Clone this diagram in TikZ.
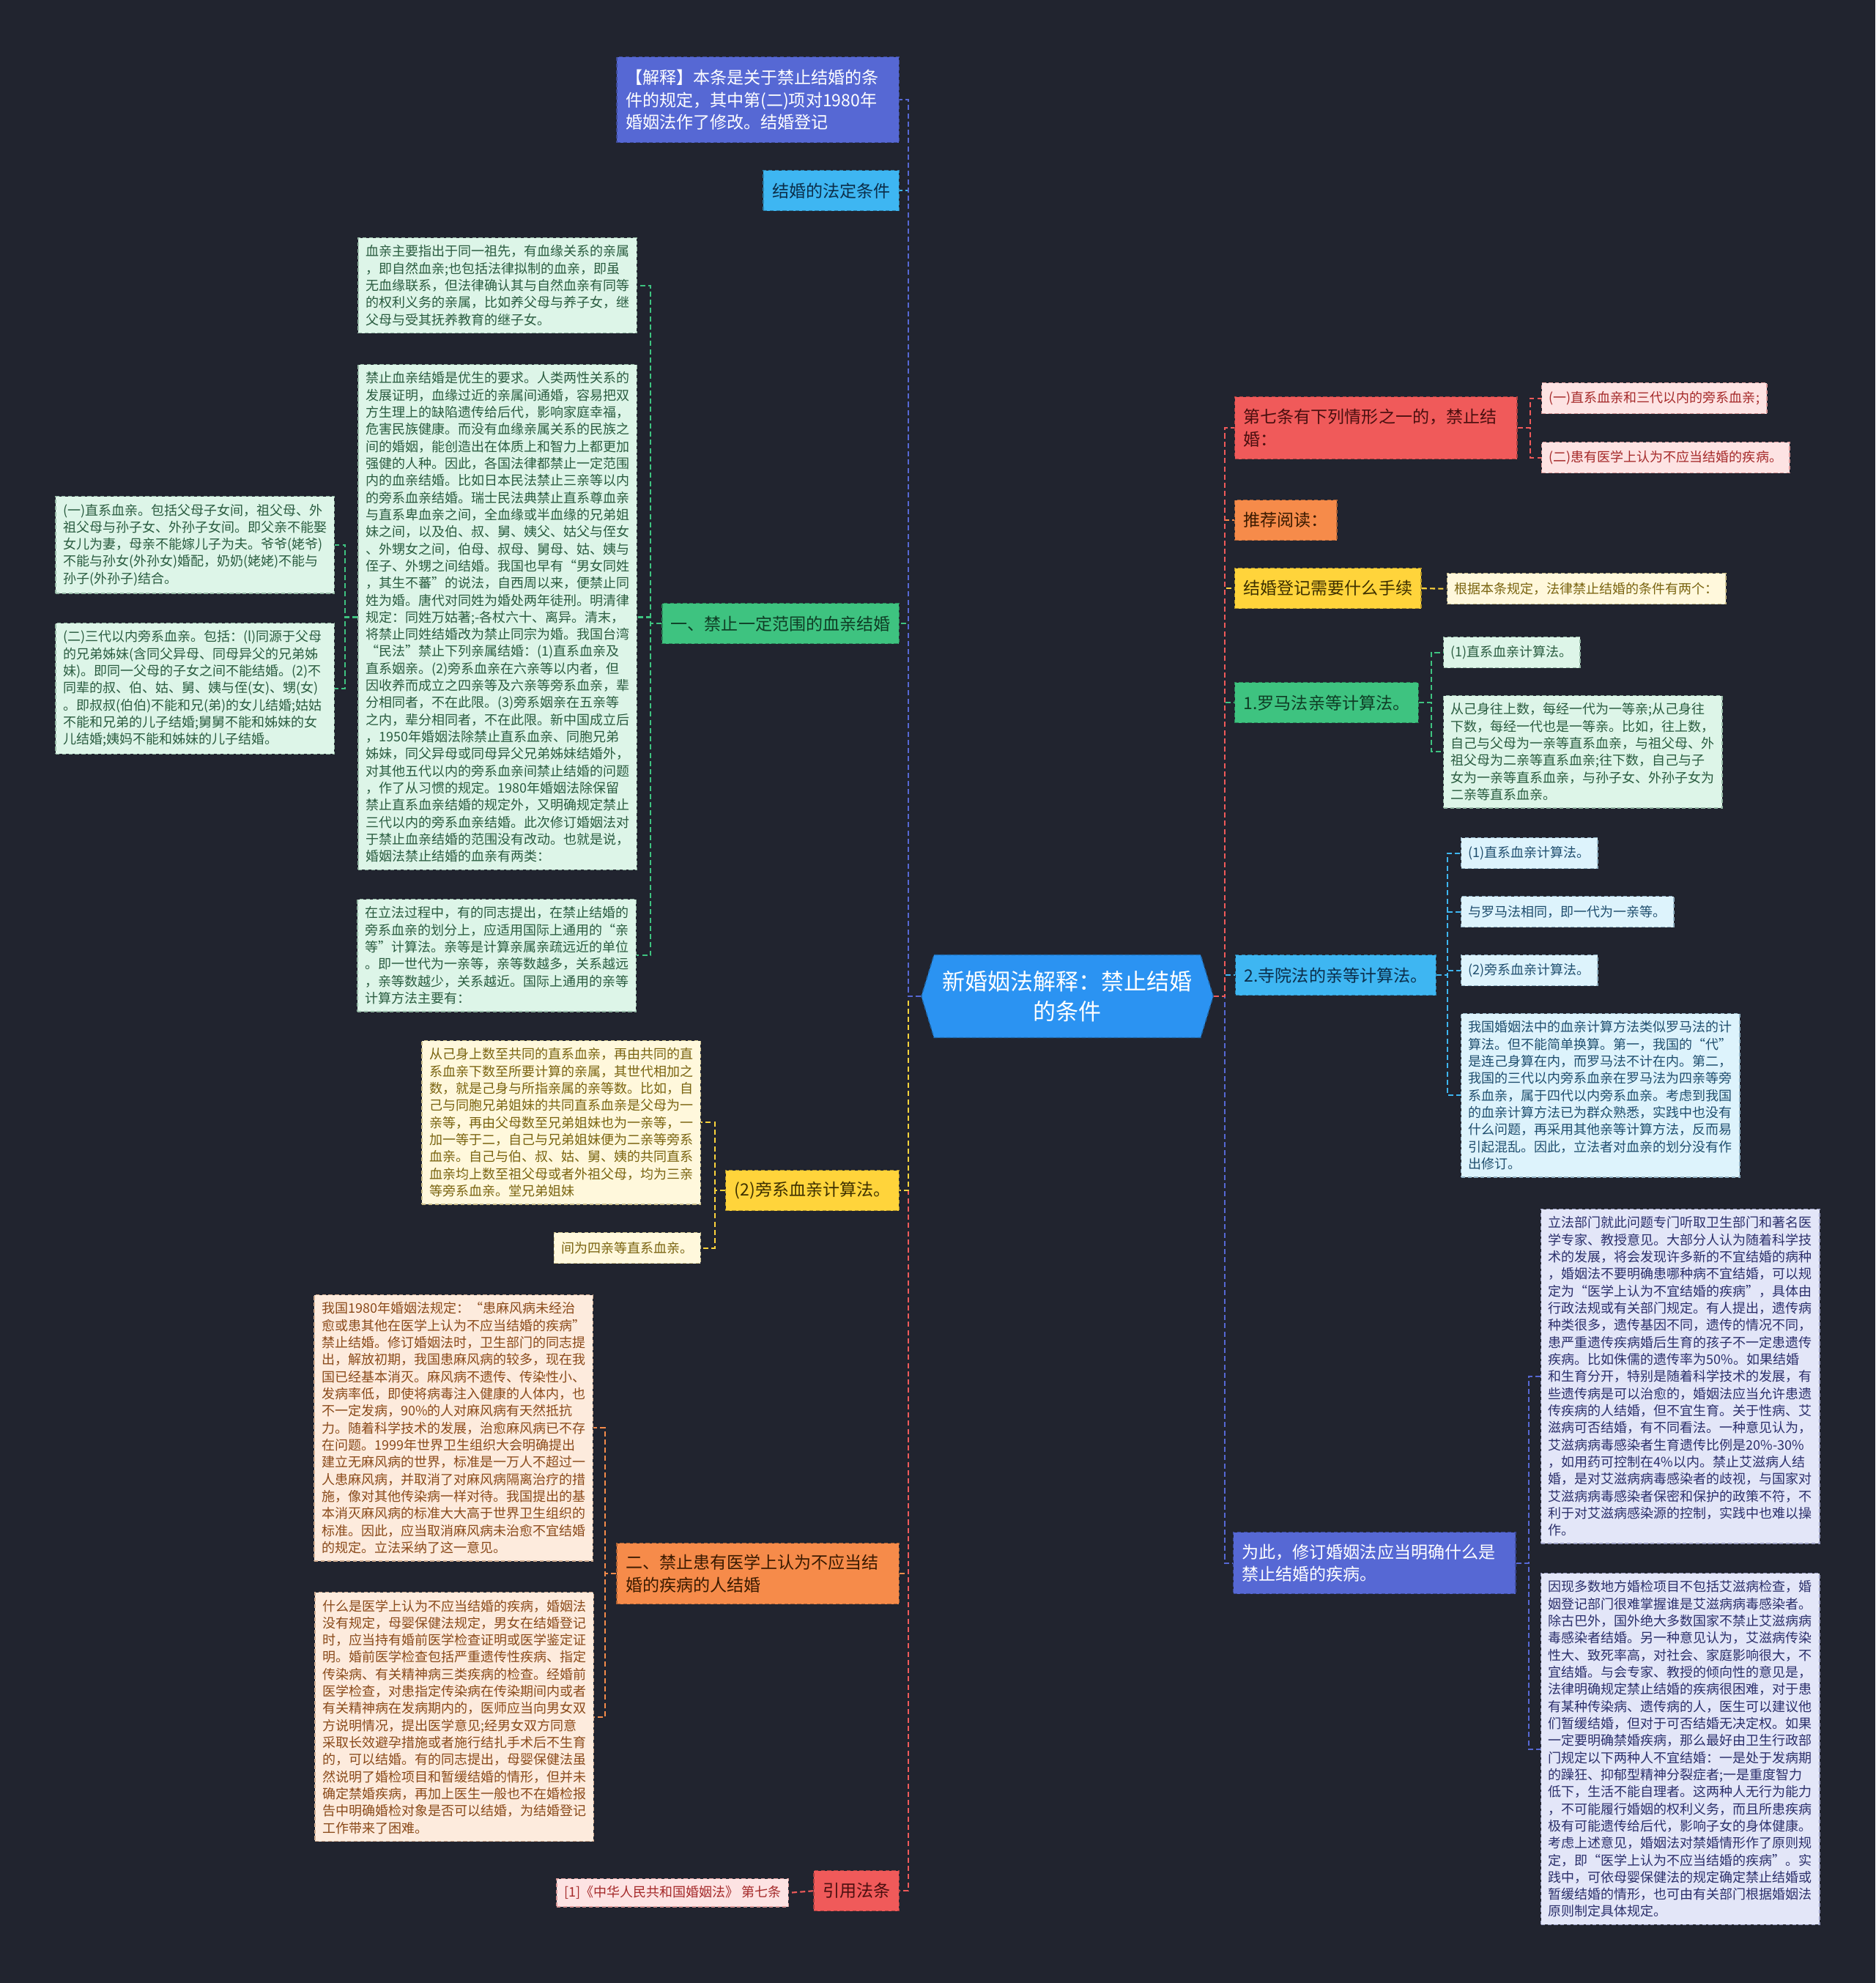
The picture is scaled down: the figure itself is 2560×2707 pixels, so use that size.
\documentclass[tikz,border=0pt]{standalone}
\usepackage{fontspec}
\setmainfont{Noto Sans CJK SC}
\usetikzlibrary{shapes.symbols}
\definecolor{canvas}{HTML}{21242F}
\definecolor{rootblue}{HTML}{2B93F2}
\definecolor{indigo}{HTML}{5668D4}
\definecolor{sky}{HTML}{3EB6F2}
\definecolor{leaf}{HTML}{3EC380}
\definecolor{sun}{HTML}{FFD43B}
\definecolor{amber}{HTML}{F68B4A}
\definecolor{coral}{HTML}{F05A5A}
\definecolor{skyink}{HTML}{0B2E4A}
\definecolor{leafink}{HTML}{0F3D25}
\definecolor{sunink}{HTML}{3D3000}
\definecolor{amberink}{HTML}{3A1A00}
\definecolor{coralink}{HTML}{4A0F0F}
\definecolor{leafbg}{HTML}{DDF5E8}
\definecolor{leaftx}{HTML}{2A5C40}
\definecolor{sunbg}{HTML}{FFF8DC}
\definecolor{suntx}{HTML}{7A6410}
\definecolor{amberbg}{HTML}{FDEBDD}
\definecolor{ambertx}{HTML}{8A4A1A}
\definecolor{coralbg}{HTML}{FDE3E3}
\definecolor{coraltx}{HTML}{A52A2A}
\definecolor{skybg}{HTML}{DDF3FC}
\definecolor{skytx}{HTML}{1F4E6E}
\definecolor{indigobg}{HTML}{E3E6F8}
\definecolor{indigotx}{HTML}{2B2F6B}

\begin{document}
\begin{tikzpicture}[
    x=0.01cm, y=-0.01cm,
    conn/.style={draw=#1, line width=0.6pt, dash pattern=on 2pt off 1.2pt},
    root/.style={signal, signal to=west and east, signal pointer angle=146, fill=rootblue, draw=rootblue!70!black, line width=0.4pt, dash pattern=on 1.5pt off 1pt, text=white, minimum width=3.94cm, minimum height=1.13cm, align=center, font=\fontsize{8.8pt}{11.7pt}\selectfont},
    topic/.style 2 args={fill=#1, draw=#1!70!black, line width=0.4pt, dash pattern=on 1.5pt off 1pt, text=#2, inner xsep=0.12cm, inner ysep=0.1cm, minimum height=0.55cm, align=left, font=\fontsize{6.55pt}{8.6pt}\selectfont},
    note/.style 2 args={fill=#1, draw=#2!40!#1, line width=0.4pt, dash pattern=on 1.5pt off 1pt, text=#2, inner xsep=0.1cm, inner ysep=0.1cm, minimum height=0.42cm, align=left, font=\fontsize{5.12pt}{6.63pt}\selectfont},
    para/.style={text width=3.6cm}
]
    \useasboundingbox (0,0) rectangle (2560,2707);
    \fill[canvas] (0,0) rectangle (2560,2707);

    % Central topic
    \node[root] (root) at (1457,1360) {新婚姻法解释：禁止结婚\\的条件};

    % Left branches
    \node[topic={indigo}{white}, text width=3.61cm, minimum height=1.17cm, anchor=north east] (expl) at (1228,77) {【解释】本条是关于禁止结婚的条\\件的规定，其中第(二)项对1980年\\婚姻法作了修改。结婚登记};
    \node[topic={sky}{skyink}, anchor=north east] (legal_cond) at (1228,232) {结婚的法定条件};
    \node[topic={leaf}{leafink}, anchor=north east] (kin_ban) at (1228,823) {一、禁止一定范围的血亲结婚};
    \node[topic={sun}{sunink}, anchor=north east] (collat_calc) at (1228,1597) {(2)旁系血亲计算法。};
    \node[topic={amber}{amberink}, text width=3.61cm, minimum height=0.83cm, anchor=north east] (disease_ban) at (1228,2106) {二、禁止患有医学上认为不应当结\\婚的疾病的人结婚};
    \node[topic={coral}{coralink}, anchor=north east] (cite) at (1228,2553) {引用法条};

    % Notes under kin_ban
    \node[note={leafbg}{leaftx}, para, anchor=north east] (blood_def) at (870,324) {血亲主要指出于同一祖先，有血缘关系的亲属\\，即自然血亲;也包括法律拟制的血亲，即虽\\无血缘联系，但法律确认其与自然血亲有同等\\的权利义务的亲属，比如养父母与养子女，继\\父母与受其抚养教育的继子女。};
    \node[note={leafbg}{leaftx}, para, anchor=north east] (eugenics) at (870,497) {禁止血亲结婚是优生的要求。人类两性关系的\\发展证明，血缘过近的亲属间通婚，容易把双\\方生理上的缺陷遗传给后代，影响家庭幸福，\\危害民族健康。而没有血缘亲属关系的民族之\\间的婚姻，能创造出在体质上和智力上都更加\\强健的人种。因此，各国法律都禁止一定范围\\内的血亲结婚。比如日本民法禁止三亲等以内\\的旁系血亲结婚。瑞士民法典禁止直系尊血亲\\与直系卑血亲之间，全血缘或半血缘的兄弟姐\\妹之间，以及伯、叔、舅、姨父、姑父与侄女\\、外甥女之间，伯母、叔母、舅母、姑、姨与\\侄子、外甥之间结婚。我国也早有“男女同姓\\，其生不蕃”的说法，自西周以来，便禁止同\\姓为婚。唐代对同姓为婚处两年徒刑。明清律\\规定：同姓万姑著;-各杖六十、离异。清末，\\将禁止同姓结婚改为禁止同宗为婚。我国台湾\\“民法”禁止下列亲属结婚：(1)直系血亲及\\直系姻亲。(2)旁系血亲在六亲等以内者，但\\因收养而成立之四亲等及六亲等旁系血亲，辈\\分相同者，不在此限。(3)旁系姻亲在五亲等\\之内，辈分相同者，不在此限。新中国成立后\\，1950年婚姻法除禁止直系血亲、同胞兄弟\\姊妹，同父异母或同母异父兄弟姊妹结婚外，\\对其他五代以内的旁系血亲间禁止结婚的问题\\，作了从习惯的规定。1980年婚姻法除保留\\禁止直系血亲结婚的规定外，又明确规定禁止\\三代以内的旁系血亲结婚。此次修订婚姻法对\\于禁止血亲结婚的范围没有改动。也就是说，\\婚姻法禁止结婚的血亲有两类：};
    \node[note={leafbg}{leaftx}, para, anchor=north east] (lineal) at (457,677) {(一)直系血亲。包括父母子女间，祖父母、外\\祖父母与孙子女、外孙子女间。即父亲不能娶\\女儿为妻，母亲不能嫁儿子为夫。爷爷(姥爷)\\不能与孙女(外孙女)婚配，奶奶(姥姥)不能与\\孙子(外孙子)结合。};
    \node[note={leafbg}{leaftx}, para, anchor=north east] (collateral) at (457,850) {(二)三代以内旁系血亲。包括：(l)同源于父母\\的兄弟姊妹(含同父异母、同母异父的兄弟姊\\妹)。即同一父母的子女之间不能结婚。(2)不\\同辈的叔、伯、姑、舅、姨与侄(女)、甥(女)\\。即叔叔(伯伯)不能和兄(弟)的女儿结婚;姑姑\\不能和兄弟的儿子结婚;舅舅不能和姊妹的女\\儿结婚;姨妈不能和姊妹的儿子结婚。};
    \node[note={leafbg}{leaftx}, para, anchor=north east] (degree_intro) at (869,1227) {在立法过程中，有的同志提出，在禁止结婚的\\旁系血亲的划分上，应适用国际上通用的“亲\\等”计算法。亲等是计算亲属亲疏远近的单位\\。即一世代为一亲等，亲等数越多，关系越远\\，亲等数越少，关系越近。国际上通用的亲等\\计算方法主要有：};

    % Notes under collat_calc
    \node[note={sunbg}{suntx}, para, anchor=north east] (upward_count) at (957,1420) {从己身上数至共同的直系血亲，再由共同的直\\系血亲下数至所要计算的亲属，其世代相加之\\数，就是己身与所指亲属的亲等数。比如，自\\己与同胞兄弟姐妹的共同直系血亲是父母为一\\亲等，再由父母数至兄弟姐妹也为一亲等，一\\加一等于二，自己与兄弟姐妹便为二亲等旁系\\血亲。自己与伯、叔、姑、舅、姨的共同直系\\血亲均上数至祖父母或者外祖父母，均为三亲\\等旁系血亲。堂兄弟姐妹};
    \node[note={sunbg}{suntx}, anchor=north east] (fourth_degree) at (957,1682) {间为四亲等直系血亲。};

    % Notes under disease_ban
    \node[note={amberbg}{ambertx}, para, anchor=north east] (leprosy) at (810,1767) {我国1980年婚姻法规定：“患麻风病未经治\\愈或患其他在医学上认为不应当结婚的疾病”\\禁止结婚。修订婚姻法时，卫生部门的同志提\\出，解放初期，我国患麻风病的较多，现在我\\国已经基本消灭。麻风病不遗传、传染性小、\\发病率低，即使将病毒注入健康的人体内，也\\不一定发病，90\%的人对麻风病有天然抵抗\\力。随着科学技术的发展，治愈麻风病已不存\\在问题。1999年世界卫生组织大会明确提出\\建立无麻风病的世界，标准是一万人不超过一\\人患麻风病，并取消了对麻风病隔离治疗的措\\施，像对其他传染病一样对待。我国提出的基\\本消灭麻风病的标准大大高于世界卫生组织的\\标准。因此，应当取消麻风病未治愈不宜结婚\\的规定。立法采纳了这一意见。};
    \node[note={amberbg}{ambertx}, para, anchor=north east] (premarital) at (811,2173) {什么是医学上认为不应当结婚的疾病，婚姻法\\没有规定，母婴保健法规定，男女在结婚登记\\时，应当持有婚前医学检查证明或医学鉴定证\\明。婚前医学检查包括严重遗传性疾病、指定\\传染病、有关精神病三类疾病的检查。经婚前\\医学检查，对患指定传染病在传染期间内或者\\有关精神病在发病期内的，医师应当向男女双\\方说明情况，提出医学意见;经男女双方同意\\采取长效避孕措施或者施行结扎手术后不生育\\的，可以结婚。有的同志提出，母婴保健法虽\\然说明了婚检项目和暂缓结婚的情形，但并未\\确定禁婚疾病，再加上医生一般也不在婚检报\\告中明确婚检对象是否可以结婚，为结婚登记\\工作带来了困难。};

    % Note under cite
    \node[note={coralbg}{coraltx}, minimum height=0.36cm, anchor=north east] (law_ref) at (1077,2564) {[1]《中华人民共和国婚姻法》 第七条};

    % Right branches
    \node[topic={coral}{coralink}, text width=3.61cm, minimum height=0.85cm, anchor=north west] (art7) at (1685,541) {第七条有下列情形之一的，禁止结\\婚：};
    \node[topic={amber}{amberink}, anchor=north west] (reading) at (1685,682) {推荐阅读：};
    \node[topic={sun}{sunink}, anchor=north west] (reg_steps) at (1685,775) {结婚登记需要什么手续};
    \node[topic={leaf}{leafink}, anchor=north west] (roman) at (1685,931) {1.罗马法亲等计算法。};
    \node[topic={sky}{skyink}, anchor=north west] (canon) at (1686,1303) {2.寺院法的亲等计算法。};
    \node[topic={indigo}{white}, text width=3.61cm, minimum height=0.84cm, anchor=north west] (revise) at (1683,2091) {为此，修订婚姻法应当明确什么是\\禁止结婚的疾病。};

    % Notes under art7 and reg_steps
    \node[note={coralbg}{coraltx}, anchor=north west] (art7_kin) at (2104,522) {(一)直系血亲和三代以内的旁系血亲;};
    \node[note={coralbg}{coraltx}, anchor=north west] (art7_ill) at (2104,603) {(二)患有医学上认为不应当结婚的疾病。};
    \node[note={sunbg}{suntx}, anchor=north west] (two_conds) at (1975,782) {根据本条规定，法律禁止结婚的条件有两个：};

    % Notes under roman
    \node[note={leafbg}{leaftx}, anchor=north west] (roman_lineal) at (1970,869) {(1)直系血亲计算法。};
    \node[note={leafbg}{leaftx}, para, anchor=north west] (roman_text) at (1970,949) {从己身往上数，每经一代为一等亲;从己身往\\下数，每经一代也是一等亲。比如，往上数，\\自己与父母为一亲等直系血亲，与祖父母、外\\祖父母为二亲等直系血亲;往下数，自己与子\\女为一亲等直系血亲，与孙子女、外孙子女为\\二亲等直系血亲。};

    % Notes under canon
    \node[note={skybg}{skytx}, anchor=north west] (canon_lineal) at (1994,1143) {(1)直系血亲计算法。};
    \node[note={skybg}{skytx}, anchor=north west] (canon_same) at (1994,1223) {与罗马法相同，即一代为一亲等。};
    \node[note={skybg}{skytx}, anchor=north west] (canon_collat) at (1994,1303) {(2)旁系血亲计算法。};
    \node[note={skybg}{skytx}, para, anchor=north west] (canon_text) at (1994,1383) {我国婚姻法中的血亲计算方法类似罗马法的计\\算法。但不能简单换算。第一，我国的“代”\\是连己身算在内，而罗马法不计在内。第二，\\我国的三代以内旁系血亲在罗马法为四亲等旁\\系血亲，属于四代以内旁系血亲。考虑到我国\\的血亲计算方法已为群众熟悉，实践中也没有\\什么问题，再采用其他亲等计算方法，反而易\\引起混乱。因此，立法者对血亲的划分没有作\\出修订。};

    % Notes under revise
    \node[note={indigobg}{indigotx}, para, anchor=north west] (expert_view) at (2103,1650) {立法部门就此问题专门听取卫生部门和著名医\\学专家、教授意见。大部分人认为随着科学技\\术的发展，将会发现许多新的不宜结婚的病种\\，婚姻法不要明确患哪种病不宜结婚，可以规\\定为“医学上认为不宜结婚的疾病”，具体由\\行政法规或有关部门规定。有人提出，遗传病\\种类很多，遗传基因不同，遗传的情况不同，\\患严重遗传疾病婚后生育的孩子不一定患遗传\\疾病。比如侏儒的遗传率为50\%。如果结婚\\和生育分开，特别是随着科学技术的发展，有\\些遗传病是可以治愈的，婚姻法应当允许患遗\\传疾病的人结婚，但不宜生育。关于性病、艾\\滋病可否结婚，有不同看法。一种意见认为，\\艾滋病病毒感染者生育遗传比例是20\%-30\%\\，如用药可控制在4\%以内。禁止艾滋病人结\\婚，是对艾滋病病毒感染者的歧视，与国家对\\艾滋病病毒感染者保密和保护的政策不符，不\\利于对艾滋病感染源的控制，实践中也难以操\\作。};
    \node[note={indigobg}{indigotx}, para, anchor=north west] (aids_view) at (2103,2147) {因现多数地方婚检项目不包括艾滋病检查，婚\\姻登记部门很难掌握谁是艾滋病病毒感染者。\\除古巴外，国外绝大多数国家不禁止艾滋病病\\毒感染者结婚。另一种意见认为，艾滋病传染\\性大、致死率高，对社会、家庭影响很大，不\\宜结婚。与会专家、教授的倾向性的意见是，\\法律明确规定禁止结婚的疾病很困难，对于患\\有某种传染病、遗传病的人，医生可以建议他\\们暂缓结婚，但对于可否结婚无决定权。如果\\一定要明确禁婚疾病，那么最好由卫生行政部\\门规定以下两种人不宜结婚：一是处于发病期\\的躁狂、抑郁型精神分裂症者;一是重度智力\\低下，生活不能自理者。这两种人无行为能力\\，不可能履行婚姻的权利义务，而且所患疾病\\极有可能遗传给后代，影响子女的身体健康。\\考虑上述意见，婚姻法对禁婚情形作了原则规\\定，即“医学上认为不应当结婚的疾病”。实\\践中，可依母婴保健法的规定确定禁止结婚或\\暂缓结婚的情形，也可由有关部门根据婚姻法\\原则制定具体规定。};

    % Root to left branches
    \draw[conn=amber] (root.west) -- ++(-17,0) |- (disease_ban.east);
    \draw[conn=coral] (root.west) -- ++(-17,0) |- (cite.east);
    \draw[conn=sun] (root.west) -- ++(-17,0) |- (collat_calc.east);
    \draw[conn=leaf] (root.west) -- ++(-17,0) |- (kin_ban.east);
    \draw[conn=sky] (root.west) -- ++(-17,0) |- (legal_cond.east);
    \draw[conn=indigo] (root.west) -- ++(-17,0) |- (expl.east);

    % Root to right branches
    \draw[conn=indigo] (root.east) -- ++(15,0) |- (revise.west);
    \draw[conn=sky] (root.east) -- ++(15,0) |- (canon.west);
    \draw[conn=leaf] (root.east) -- ++(15,0) |- (roman.west);
    \draw[conn=sun] (root.east) -- ++(15,0) |- (reg_steps.west);
    \draw[conn=amber] (root.east) -- ++(15,0) |- (reading.west);
    \draw[conn=coral] (root.east) -- ++(15,0) |- (art7.west);

    % Left branches to their notes
    \draw[conn=leaf] (kin_ban.west) -- ++(-15,0) |- (blood_def.east);
    \draw[conn=leaf] (kin_ban.west) -- ++(-15,0) |- (eugenics.east);
    \draw[conn=leaf] (kin_ban.west) -- ++(-15,0) |- (degree_intro.east);
    \draw[conn=leaf] (eugenics.west) -- ++(-17,0) |- (lineal.east);
    \draw[conn=leaf] (eugenics.west) -- ++(-17,0) |- (collateral.east);
    \draw[conn=sun] (collat_calc.west) -- ++(-14,0) |- (upward_count.east);
    \draw[conn=sun] (collat_calc.west) -- ++(-14,0) |- (fourth_degree.east);
    \draw[conn=amber] (disease_ban.west) -- ++(-15,0) |- (leprosy.east);
    \draw[conn=amber] (disease_ban.west) -- ++(-15,0) |- (premarital.east);
    \draw[conn=coral] (cite.west) -- (law_ref.east);

    % Right branches to their notes
    \draw[conn=coral] (art7.east) -- ++(17,0) |- (art7_kin.west);
    \draw[conn=coral] (art7.east) -- ++(17,0) |- (art7_ill.west);
    \draw[conn=sun] (reg_steps.west -| reg_steps.east) -- (two_conds.west);
    \draw[conn=leaf] (roman.east) -- ++(17,0) |- (roman_lineal.west);
    \draw[conn=leaf] (roman.east) -- ++(17,0) |- (roman_text.west);
    \draw[conn=sky] (canon.east) -- ++(15,0) |- (canon_lineal.west);
    \draw[conn=sky] (canon.east) -- ++(15,0) |- (canon_same.west);
    \draw[conn=sky] (canon.east) -- ++(15,0) |- (canon_collat.west);
    \draw[conn=sky] (canon.east) -- ++(15,0) |- (canon_text.west);
    \draw[conn=indigo] (revise.east) -- ++(17,0) |- (expert_view.west);
    \draw[conn=indigo] (revise.east) -- ++(17,0) |- (aids_view.west);

\end{tikzpicture}
\end{document}
